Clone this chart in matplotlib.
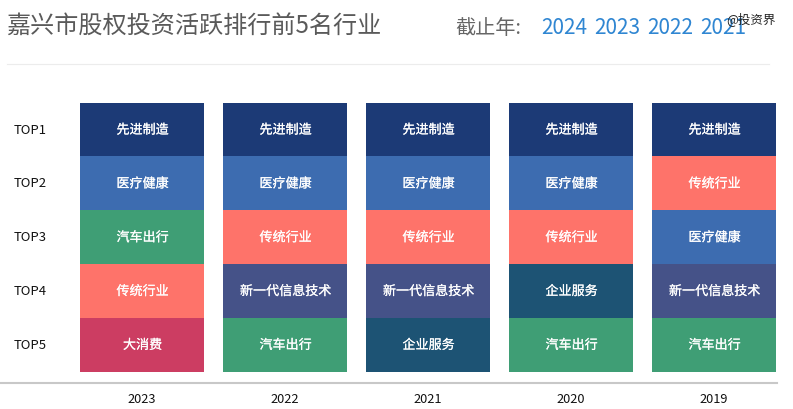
#!/usr/bin/env python3
"""Ranking table of active equity investment industries, drawn as stacked cells."""

import matplotlib
matplotlib.use("Agg")
import matplotlib.pyplot as plt
import matplotlib.patheffects as pe
from matplotlib.lines import Line2D
from matplotlib.transforms import ScaledTranslation

plt.rcParams['font.family'] = ['Noto Sans CJK SC', 'DejaVu Sans']

W, H = 793, 410

years = ["2023", "2022", "2021", "2020", "2019"]
ranks = ["TOP1", "TOP2", "TOP3", "TOP4", "TOP5"]
col_2023 = ["先进制造", "医疗健康", "汽车出行", "传统行业", "大消费"]
col_2022 = ["先进制造", "医疗健康", "传统行业", "新一代信息技术", "汽车出行"]
col_2021 = ["先进制造", "医疗健康", "传统行业", "新一代信息技术", "企业服务"]
col_2020 = ["先进制造", "医疗健康", "传统行业", "企业服务", "汽车出行"]
col_2019 = ["先进制造", "传统行业", "医疗健康", "新一代信息技术", "汽车出行"]
columns = [col_2023, col_2022, col_2021, col_2020, col_2019]
filter_years = ["2024", "2023", "2022", "2021"]

colors = {
    "先进制造": "#1c3a76",
    "医疗健康": "#3d6cb0",
    "汽车出行": "#3f9e75",
    "传统行业": "#fe736a",
    "新一代信息技术": "#455288",
    "企业服务": "#1d5374",
    "大消费": "#cc3d62",
}


def px_text(fig, x, y, s, **kw):
    fig.text(x / W, 1 - y / H, s, va='center', **kw)


def px_line(fig, x0, x1, y, color, lw):
    fig.add_artist(Line2D([x0 / W, x1 / W], [1 - y / H, 1 - y / H], color=color, lw=lw))


def main():
    fig = plt.figure(figsize=(W / 100, H / 100), dpi=100, facecolor='white')

    # axes box in pixels: bottom edge sits on the grey base line
    left, right, top, bottom = 70.4, 785.4, 103.6, 383.6
    ax = fig.add_axes([left / W, 1 - bottom / H, (right - left) / W, (bottom - top) / H])
    ax.set_xlim(-0.5, 4.5)
    ax.set_ylim((bottom - top) / 53.8 - 0.5, -0.5)

    # thin stroke, the cell labels look semi-bold in the original
    stroke = [pe.withStroke(linewidth=0.12, foreground='white')]
    for i, col in enumerate(columns):
        for j, name in enumerate(col):
            ax.bar(i, 1, bottom=j - 0.5, width=124 / 143, color=colors[name], linewidth=0)
            ax.text(i + 0.004, j + 0.012, name, color='white', ha='center', va='center',
                    fontsize=9.4, path_effects=stroke)

    ax.set_xticks(range(len(years)), years)
    ax.set_yticks(range(len(ranks)), ranks)
    ax.tick_params(axis='x', length=0, pad=6.5, labelsize=9.2, labelcolor='#111111')
    ax.tick_params(axis='y', length=0, pad=17, labelsize=9.4, labelcolor='#111111')
    # rank labels sit a little above the cell centre
    nudge = ScaledTranslation(0, 2 / 100, fig.dpi_scale_trans)
    for label in ax.get_yticklabels():
        label.set_transform(label.get_transform() + nudge)
    for s in ax.spines.values():
        s.set_visible(False)

    # header
    px_text(fig, 6, 26.5, "嘉兴市股权投资活跃排行前5名行业", fontsize=17.35, color='#5a5a5a', ha='left')
    px_text(fig, 455.5, 29, "截止年:", fontsize=14.5, color='#666666', ha='left')
    for x, label in zip([541.5, 594.5, 647.5, 700.5], filter_years):
        px_text(fig, x, 28, label, fontsize=15, color='#2f86d2', ha='left')
    px_text(fig, 751, 19.5, "@投资界", fontsize=9, color='#222222', ha='center')

    px_line(fig, 7, 769, 64.5, '#ececec', 0.8)
    px_line(fig, 0, 777, 383.5, '#c8c8c8', 1.5)

    fig.savefig("out.png", dpi=100, facecolor='white')


if __name__ == '__main__':
    main()
